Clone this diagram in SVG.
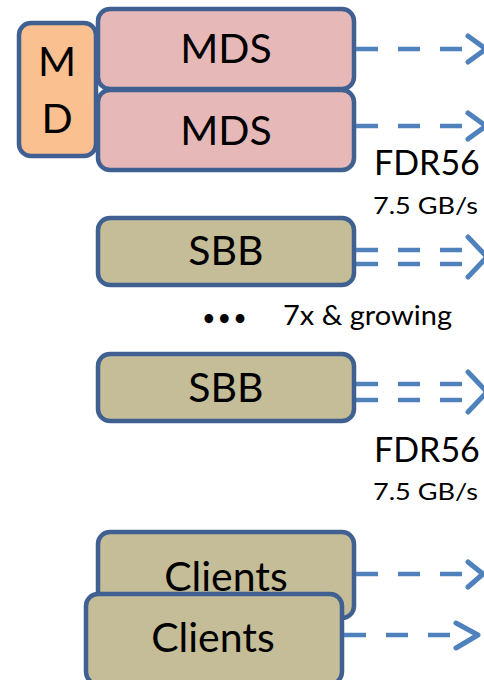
<svg xmlns="http://www.w3.org/2000/svg" width="484" height="680" viewBox="0 0 484 680">
<style>
.box{stroke:#3F6090;stroke-width:4.5}
.md{fill:#FAC090}
.mds{fill:#E6B9B8}
.tan{fill:#C4BD97}
.t{font-family:Lato,"Liberation Sans",Arial,sans-serif;fill:#000}
.big{font-size:41px;text-anchor:middle}
.dash{stroke:#4F81BD;stroke-width:4.5;fill:none;stroke-dasharray:22 20}
.chev{stroke:#4F81BD;stroke-width:5;fill:none;stroke-linecap:round;stroke-linejoin:round}
</style>
<g id="md">
<rect class="box md" x="19" y="23" width="77" height="133" rx="12"/>
<text class="t big" x="57" y="76">M</text>
<text class="t big" x="57" y="133">D</text>
</g>
<g id="mds1">
<rect class="box mds" x="98" y="9" width="256" height="80" rx="12"/>
<text class="t big" x="226" y="63">MDS</text>
</g>
<g id="mds2">
<rect class="box mds" x="98" y="90" width="256" height="80" rx="12"/>
<text class="t big" x="226" y="145">MDS</text>
</g>
<g id="sbb1">
<rect class="box tan" x="98" y="218" width="256" height="67" rx="12"/>
<text class="t big" x="226" y="265">SBB</text>
</g>
<g id="sbb2">
<rect class="box tan" x="98" y="354" width="256" height="67" rx="12"/>
<text class="t big" x="226" y="402">SBB</text>
</g>
<g id="clients1">
<rect class="box tan" x="98" y="532" width="256" height="86" rx="12"/>
<text class="t big" x="226" y="591">Clients</text>
</g>
<g id="clients2">
<rect class="box tan" x="86" y="594" width="256" height="90" rx="12"/>
<text class="t big" x="213" y="652">Clients</text>
</g>
<g id="labels">
<text class="t" x="374" y="175" font-size="34">FDR56</text>
<text class="t" x="373" y="214" font-size="24" textLength="105" lengthAdjust="spacingAndGlyphs">7.5 GB/s</text>
<text class="t" x="374" y="462" font-size="34">FDR56</text>
<text class="t" x="373" y="500" font-size="24" textLength="105" lengthAdjust="spacingAndGlyphs">7.5 GB/s</text>
<text class="t" x="203" y="325" font-size="20" font-weight="bold" letter-spacing="4">•••</text>
<text class="t" x="283" y="325" font-size="26" textLength="169" lengthAdjust="spacingAndGlyphs">7x &amp; growing</text>
</g>
<g id="connectors">
<line class="dash" x1="356" y1="49" x2="466" y2="49"/>
<polyline class="chev" points="468,36 486,49 468,62"/>
<line class="dash" x1="356" y1="126" x2="466" y2="126"/>
<polyline class="chev" points="468,113 486,126 468,139"/>
<line class="dash" x1="356" y1="250" x2="466" y2="250"/>
<line class="dash" x1="356" y1="264" x2="466" y2="264"/>
<polyline class="chev" points="468,237 487,257 468,277"/>
<line class="dash" x1="356" y1="384" x2="466" y2="384"/>
<line class="dash" x1="356" y1="400" x2="466" y2="400"/>
<polyline class="chev" points="468,372 487,392 468,412"/>
<line class="dash" x1="356" y1="574" x2="466" y2="574"/>
<polyline class="chev" points="468,562 483,574 468,587"/>
<line class="dash" x1="344" y1="635" x2="454" y2="635"/>
<polyline class="chev" points="456,623 478,635 456,648"/>
</g>
</svg>
